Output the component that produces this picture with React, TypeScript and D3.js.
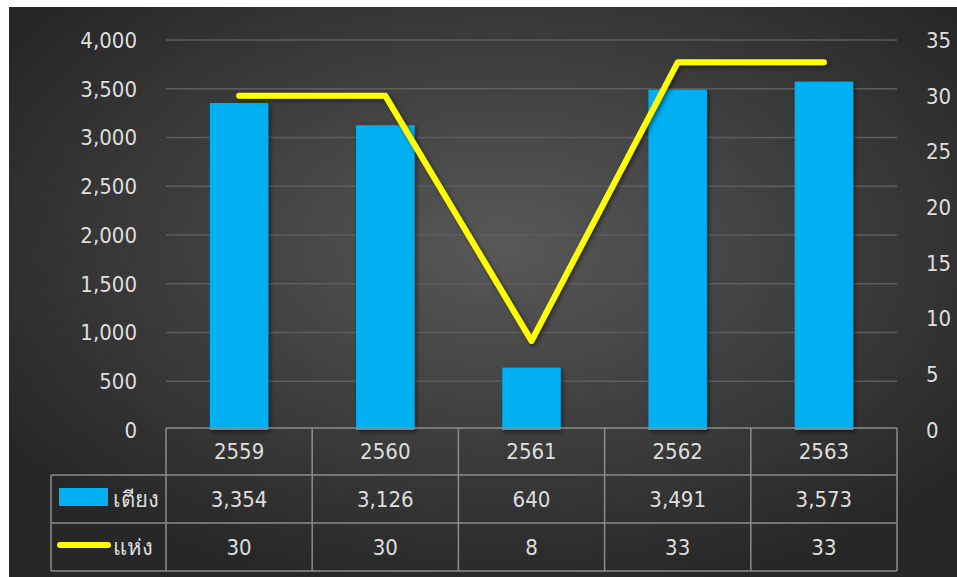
import React from 'react';
import * as d3 from 'd3';

const years = ['2559', '2560', '2561', '2562', '2563'];
const beds = [3354, 3126, 640, 3491, 3573];
const places = [30, 30, 8, 33, 33];
const leftTicks = [0, 500, 1000, 1500, 2000, 2500, 3000, 3500, 4000];
const rightTicks = [0, 5, 10, 15, 20, 25, 30, 35];
const bedLabel = 'เตียง';
const placeLabel = 'แห่ง';

const W = 957;
const H = 577;
const plot = { left: 166, right: 897, top: 40, bottom: 430 };
const legendLeft = 51;
const rowLines = [428, 475, 523, 571];
const textColor = '#dedede';
const font = 'Tahoma, "DejaVu Sans Condensed", "DejaVu Sans", sans-serif';
const fs = 22;

const App: React.FC = () => {
  const x = d3.scaleBand<string>().domain(years).range([plot.left, plot.right]).paddingInner(0).paddingOuter(0);
  const yL = d3.scaleLinear().domain([0, 4000]).range([plot.bottom, plot.top]);
  const yR = d3.scaleLinear().domain([0, 35]).range([plot.bottom, plot.top]);
  const barW = x.bandwidth() * 0.4;
  const fmt = d3.format(',');

  const line = d3.line<number>()
    .x((_, i) => (x(years[i]) || 0) + x.bandwidth() / 2)
    .y(d => yR(d));

  const rowMid = (i: number) => (rowLines[i] + rowLines[i + 1]) / 2;

  return (
    <svg width={W} height={H} style={{ position: 'absolute', left: 0, top: 0 }}>
      <defs>
        <radialGradient id="bg" cx="52%" cy="42%" r="62%">
          <stop offset="0%" stopColor="#585858" />
          <stop offset="100%" stopColor="#272727" />
        </radialGradient>
        <filter id="shadow" x="-20%" y="-20%" width="140%" height="140%">
          <feDropShadow dx="2" dy="2" stdDeviation="2" floodColor="#000" floodOpacity="0.5" />
        </filter>
      </defs>
      <rect x={0} y={0} width={W} height={H} fill="#fff" />
      <rect x={9} y={7} width={W - 9} height={H - 7} fill="url(#bg)" />

      {/* grid */}
      {leftTicks.filter(t => t > 0).map(t => (
        <line key={t} x1={plot.left} x2={plot.right} y1={yL(t)} y2={yL(t)} stroke="#5e5e5e" strokeWidth={1.5} />
      ))}

      {/* left axis */}
      {leftTicks.map(t => (
        <text key={t} x={137} y={yL(t)} dy="0.36em" textAnchor="end" fill={textColor} fontSize={fs} fontFamily={font}>
          {fmt(t)}
        </text>
      ))}
      {/* right axis */}
      {rightTicks.map(t => (
        <text key={t} x={926} y={yR(t)} dy="0.36em" textAnchor="start" fill={textColor} fontSize={fs} fontFamily={font}>
          {t}
        </text>
      ))}

      {/* bars */}
      {beds.map((v, i) => (
        <rect key={years[i]} x={(x(years[i]) || 0) + (x.bandwidth() - barW) / 2} y={yL(v)} width={barW} height={yL(0) - yL(v)}
          fill="#00b0f0" filter="url(#shadow)" />
      ))}

      {/* line */}
      <path d={line(places) || ''} fill="none" stroke="#ffff00" strokeWidth={6} strokeLinecap="round" strokeLinejoin="round" filter="url(#shadow)" />

      {/* data table */}
      <g stroke="#8c8c8c" strokeWidth={1.5} fill="none">
        <line x1={plot.left} x2={plot.right} y1={rowLines[0]} y2={rowLines[0]} />
        {rowLines.slice(1).map(yv => (
          <line key={yv} x1={legendLeft} x2={plot.right} y1={yv} y2={yv} />
        ))}
        <line x1={legendLeft} x2={legendLeft} y1={rowLines[1]} y2={rowLines[3]} />
        {years.map(yr => (
          <line key={yr} x1={x(yr) || 0} x2={x(yr) || 0} y1={rowLines[0]} y2={rowLines[3]} />
        ))}
        <line x1={plot.right} x2={plot.right} y1={rowLines[0]} y2={rowLines[3]} />
      </g>
      {years.map((yr, i) => {
        const cx = (x(yr) || 0) + x.bandwidth() / 2;
        return (
          <g key={yr} fill={textColor} fontSize={fs} fontFamily={font} textAnchor="middle">
            <text x={cx} y={rowMid(0)} dy="0.36em">{yr}</text>
            <text x={cx} y={rowMid(1)} dy="0.36em">{fmt(beds[i])}</text>
            <text x={cx} y={rowMid(2)} dy="0.36em">{places[i]}</text>
          </g>
        );
      })}

      {/* legend keys */}
      <rect x={59} y={488} width={49} height={18} fill="#00b0f0" />
      <text x={113} y={rowMid(1)} dy="0.36em" fill={textColor} fontSize={fs} fontFamily={font}>{bedLabel}</text>
      <line x1={60} x2={108} y1={545} y2={545} stroke="#ffff00" strokeWidth={6} strokeLinecap="round" />
      <text x={113} y={rowMid(2)} dy="0.36em" fill={textColor} fontSize={fs} fontFamily={font}>{placeLabel}</text>
    </svg>
  );
};

export default App;
